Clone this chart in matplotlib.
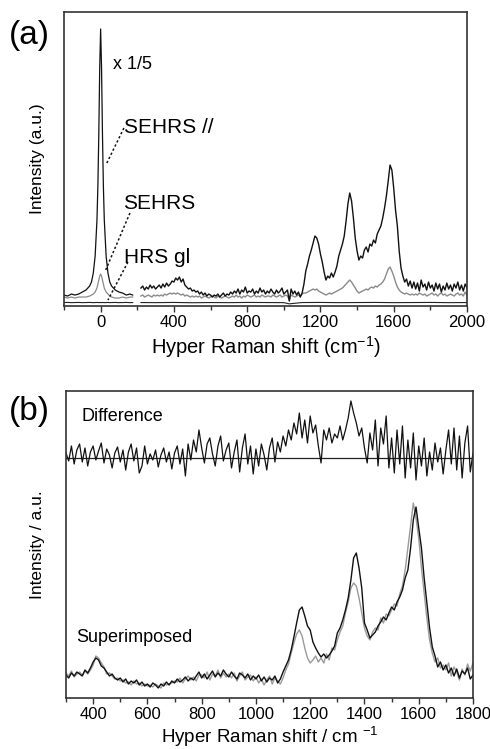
import numpy as np
import matplotlib
matplotlib.use("Agg")
import matplotlib.pyplot as plt
from matplotlib.ticker import MultipleLocator

plt.rcParams['font.family'] = ['Liberation Sans', 'DejaVu Sans']
plt.rcParams['mathtext.fontset'] = 'custom'
plt.rcParams['mathtext.rm'] = 'Liberation Sans'
plt.rcParams['mathtext.it'] = 'Liberation Sans:italic'

############### panel (a) data ################
# low-frequency part (Rayleigh line, shown x 1/5)
a_left_x = [-200, -180, -160, -140, -120, -100, -80, -60, -50, -40, -30, -20, -15, -10, -5,
            0, 5, 10, 15, 20, 30, 40, 50, 60, 80, 100, 120, 140, 160, 175]
a_left_par = [11, 10, 12, 11, 12, 14, 16, 20, 24, 33, 50, 86, 120, 172, 238,
              277, 238, 172, 120, 86, 50, 33, 24, 20, 16, 14, 13, 11, 12, 11]
a_left_sehrs = [9, 8, 9, 8, 9, 9, 9, 10, 11, 12, 14, 18, 22, 26, 30,
                32, 30, 26, 22, 18, 14, 12, 10, 9, 8, 8, 9, 8, 9, 9]
a_left_hrs = [3.5, 3.6, 3.4, 3.5, 3.6, 3.4, 3.5, 3.6, 3.5, 3.4, 3.5, 3.6, 3.5, 3.4, 3.6,
              3.5, 3.4, 3.6, 3.5, 3.4, 3.5, 3.6, 3.4, 3.5, 3.6, 3.4, 3.5, 3.6, 3.4, 3.5]

# vibrational part, 220 - 2000 cm-1, every 10 cm-1
a_right_x = np.arange(220, 2001, 10)
a_right_par = [
    18, 20, 16, 19, 17, 21, 18, 20, 17, 19,
    21, 18, 22, 19, 23, 20, 22, 25, 24, 28,
    26, 29, 24, 27, 21, 19, 17, 18, 15, 16,
    14, 15, 12, 14, 11, 13, 10, 12, 11, 9,
    11, 10, 12, 9, 11, 13, 10, 12, 11, 14,
    12, 15, 13, 17, 12, 16, 14, 19, 13, 15,
    14, 17, 12, 15, 13, 18, 14, 16, 12, 15,
    13, 17, 14, 12, 16, 13, 15, 18, 12, 14,
    16, 5, 17, 12, 15, 11, 14, 9, 13, 22,
    35, 42, 50, 56, 63, 70, 68, 62, 52, 44,
    34, 26, 30, 28, 33, 29, 34, 40, 50, 56,
    62, 70, 85, 102, 113, 105, 88, 68, 55, 46,
    50, 48, 56, 59, 54, 62, 60, 66, 63, 72,
    76, 80, 88, 98, 110, 125, 141, 136, 118, 96,
    80, 55, 38, 30, 24, 27, 20, 25, 18, 24,
    17, 23, 15, 26, 19, 22, 16, 24, 18, 21,
    15, 23, 17, 22, 14, 20, 16, 23, 17, 21,
    15, 22, 18, 24, 16, 21, 15, 22, 18]
a_right_sehrs = [
    10, 11, 9, 10, 11, 10, 9, 11, 10, 11,
    10, 11, 10, 12, 11, 12, 13, 12, 13, 12,
    13, 12, 11, 12, 10, 11, 10, 9, 10, 9,
    10, 9, 10, 8, 9, 10, 9, 8, 9, 10,
    9, 8, 10, 9, 8, 9, 10, 9, 8, 9,
    10, 9, 11, 9, 10, 8, 10, 9, 11, 10,
    9, 10, 11, 9, 10, 9, 11, 10, 9, 10,
    10, 9, 11, 10, 9, 10, 11, 9, 10, 11,
    10, 6, 11, 10, 9, 10, 11, 10, 12, 13,
    13, 14, 15, 16, 17, 16, 17, 15, 14, 13,
    12, 11, 12, 13, 12, 13, 14, 15, 16, 17,
    18, 20, 22, 24, 26, 24, 21, 18, 15, 13,
    14, 15, 16, 17, 16, 18, 19, 18, 20, 19,
    21, 22, 24, 27, 32, 37, 39, 35, 30, 24,
    19, 16, 14, 13, 12, 13, 12, 11, 12, 11,
    12, 11, 13, 12, 11, 12, 10, 11, 12, 13,
    11, 12, 10, 12, 13, 11, 12, 10, 11, 12,
    11, 10, 12, 13, 11, 12, 10, 14, 11]
a_hrs_x = [220, 300, 400, 500, 600, 700, 800, 900, 1000, 1030, 1100, 1200, 1300,
           1400, 1500, 1600, 1700, 1800, 1900, 2000]
a_hrs_y = [3.5, 3.4, 3.6, 3.3, 3.5, 3.4, 3.6, 3.5, 3.4, 2.2, 3.5, 3.6, 3.4,
           3.5, 3.6, 3.4, 3.5, 3.6, 3.4, 3.5]

############### panel (b) data ################
b_x = np.arange(300, 1801, 10)
b_diff = [
    5, -3, 12, -6, 8, 14, -4, 10, -8, 6,
    12, -2, 7, 15, -5, 9, 3, -10, 5, 11,
    -4, 8, -12, 6, 14, -3, 10, -15, -8, 12,
    -6, 4, -2, 8, -9, 3, 10, -4, 6, -11,
    5, 12, -6, 9, -18, 14, -2, 18, 6, 28,
    10, -5, 14, 20, 4, -8, 12, 22, -3, 8,
    15, -10, 6, 18, -14, 10, 24, -6, 12, -16,
    9, -8, 14, 3, -12, 10, 20, -4, 16, 6,
    22, 12, 28, 18, 35, 24, 45, 20, 38, 15,
    42, 25, 33, 12, -5, 28, 18, 30, 15, 24,
    20, 32, 18, 28, 40, 57, 45, 35, 22, 30,
    10, -5, 25, 8, 38, -8, 30, 14, 42, -10,
    20, -15, 28, -6, 32, -20, 18, -10, 25, -22,
    12, -8, 20, -18, 6, -12, 15, -4, 10, -16,
    8, 28, -6, 30, -12, 22, -20, 15, 32, -14,
    5]
b_black = [
    23, 20, 25, 22, 26, 24, 22, 28, 25, 30,
    36, 40, 38, 32, 30, 26, 22, 24, 20, 18,
    20, 16, 19, 14, 17, 15, 18, 13, 16, 12,
    14, 11, 15, 13, 10, 14, 12, 16, 13, 17,
    15, 19, 16, 18, 21, 17, 20, 18, 22, 26,
    20, 24, 19, 23, 27, 21, 25, 22, 28, 24,
    21, 26, 22, 19, 25, 23, 20, 24, 18, 22,
    19, 23, 17, 21, 16, 20, 18, 22, 15, 19,
    26, 32, 38, 48, 61, 75, 88, 91, 82, 72,
    68, 56, 50, 45, 41, 44, 40, 43, 47, 52,
    65, 70, 78, 88, 100, 118, 140, 145, 130, 110,
    75, 68, 60, 63, 66, 72, 76, 81, 78, 85,
    91, 88, 96, 101, 108, 120, 128, 150, 178, 191,
    170, 150, 120, 95, 70, 51, 42, 31, 36, 28,
    33, 25, 30, 22, 29, 20, 27, 24, 30, 19,
    23]
b_gray = [
    25, 22, 27, 21, 24, 26, 23, 27, 24, 28,
    33, 42, 40, 35, 31, 24, 25, 22, 19, 20,
    17, 18, 15, 16, 13, 17, 14, 15, 12, 14,
    12, 13, 11, 14, 12, 10, 15, 13, 14, 15,
    17, 16, 20, 15, 19, 22, 18, 21, 17, 23,
    23, 20, 26, 18, 24, 22, 28, 20, 25, 21,
    24, 20, 25, 17, 22, 26, 18, 21, 23, 17,
    21, 15, 19, 13, 18, 22, 14, 20, 17, 14,
    20, 28, 34, 45, 55, 64, 68, 62, 50, 40,
    35, 38, 42, 36, 40, 35, 44, 38, 50, 48,
    58, 66, 72, 85, 96, 110, 115, 112, 100, 85,
    70, 62, 58, 66, 70, 68, 80, 75, 84, 82,
    88, 94, 92, 104, 112, 128, 150, 172, 195, 180,
    160, 130, 105, 80, 58, 45, 36, 40, 30, 33,
    28, 35, 22, 31, 26, 18, 29, 23, 34, 27,
    35]
diff_offset = 240

############### figure ################
fig = plt.figure(figsize=(4.9, 7.49), dpi=100)
ax1 = fig.add_axes([0.1306, 0.5914, 0.8224, 0.3926])
ax2 = fig.add_axes([0.1347, 0.0681, 0.8306, 0.4099])

spine_col = '#333333'
gray_a = '#8a8a8a'
gray_b = '#9a9a9a'

for ax in (ax1, ax2):
    for s in ax.spines.values():
        s.set_color(spine_col)
        s.set_linewidth(1.2)
    ax.set_yticks([])
    ax.tick_params(axis='x', which='both', direction='out', color=spine_col, width=1)
    ax.tick_params(axis='x', which='major', length=4.5, pad=2, labelsize=12)
    ax.tick_params(axis='x', which='minor', length=3)

# panel (a)
ax1.plot(a_left_x, a_left_hrs, color='#222222', lw=0.8)
ax1.plot(a_left_x, a_left_sehrs, color=gray_a, lw=0.9)
ax1.plot(a_left_x, a_left_par, color='#111111', lw=0.9)
ax1.plot(a_hrs_x, a_hrs_y, color='#222222', lw=0.8)
ax1.plot(a_right_x, a_right_sehrs, color=gray_a, lw=1.0)
ax1.plot(a_right_x, a_right_par, color='#111111', lw=1.0)
ax1.set_xlim(-200, 2000)
ax1.set_ylim(0, 294)
ax1.xaxis.set_major_locator(MultipleLocator(400))
ax1.xaxis.set_minor_locator(MultipleLocator(200))
ax1.set_xlabel('Hyper Raman shift (cm$^{-1}$)', fontsize=14.5, labelpad=3)
ax1.set_ylabel('Intensity (a.u.)', fontsize=12.5, labelpad=14)

ax1.text(67, 241, 'x 1/5', fontsize=13, va='center')
ax1.text(125, 179, 'SEHRS //', fontsize=15, va='center')
ax1.text(125, 103, 'SEHRS', fontsize=15, va='center')
ax1.text(125, 49, 'HRS gl', fontsize=15, va='center')
ax1.plot([127, 34], [178, 143], color='#111111', lw=1.1, ls=(0, (1.5, 1.5)))
ax1.plot([160, 23], [93, 34], color='#111111', lw=1.1, ls=(0, (1.5, 1.5)))
ax1.plot([149, 40], [44, 6], color='#111111', lw=1.1, ls=(0, (1.5, 1.5)))

fig.text(0.018, 0.953, '(a)', fontsize=24, va='center')

# panel (b)
ax2.axhline(diff_offset, color='#222222', lw=0.9)
ax2.plot(b_x, np.array(b_diff) + diff_offset, color='#111111', lw=0.9)
ax2.plot(b_x, b_gray, color=gray_b, lw=1.0)
ax2.plot(b_x, b_black, color='#111111', lw=1.0)
ax2.set_xlim(300, 1800)
ax2.set_ylim(0, 307)
ax2.xaxis.set_major_locator(MultipleLocator(200))
ax2.xaxis.set_minor_locator(MultipleLocator(100))
ax2.set_xlabel('Hyper Raman shift / cm $^{-1}$', fontsize=13.5, labelpad=2)
ax2.set_ylabel('Intensity / a.u.', fontsize=12.5, labelpad=15)

ax2.text(358, 281, 'Difference', fontsize=13, va='center')
ax2.text(339, 60, 'Superimposed', fontsize=13, va='center')

fig.text(0.018, 0.45, '(b)', fontsize=24, va='center')

fig.savefig('out.png', dpi=100)
